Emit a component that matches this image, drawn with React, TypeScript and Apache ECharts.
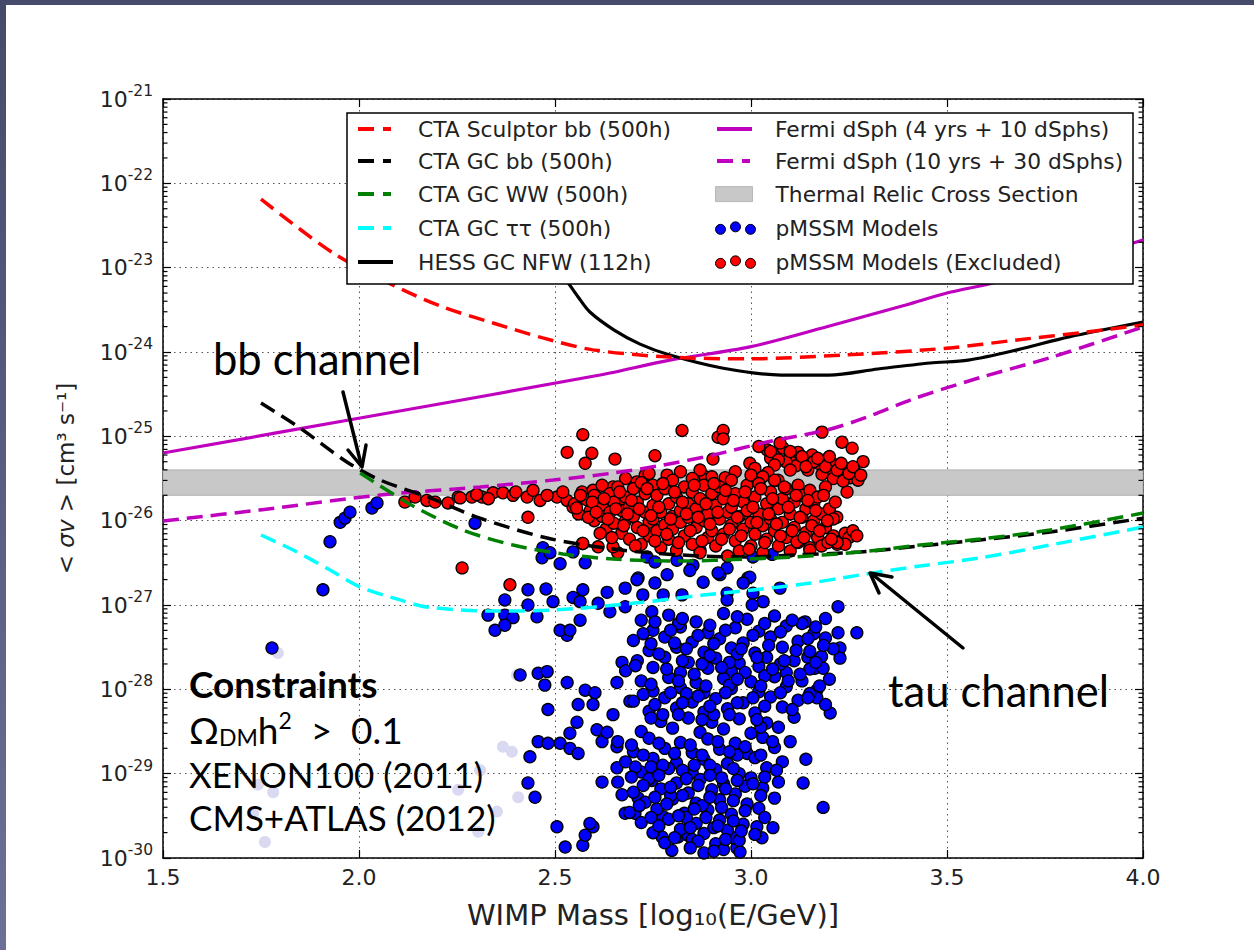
import React, { useEffect, useRef } from "react";
import * as echarts from "echarts";

// ---------- axes (y axis is drawn in decades: log10 of <sigma v>) ----------
const X_MIN = 1.5;
const X_MAX = 4.0;
const X_INTERVAL = 0.5;
const Y_MIN_EXP = -30;
const Y_MAX_EXP = -21;
const Y_INTERVAL = 1;
const MINOR_TICK_MANTISSAS = [2, 3, 4, 5, 6, 7, 8, 9];
const DECADE_EXPONENTS = [-30, -29, -28, -27, -26, -25, -24, -23, -22];

// ---------- curves: [log10(E/GeV), <sigma v> cm^3/s] ----------
const CTA_SCULPTOR_BB = [[1.75, 6.5e-23], [1.934, 1.49e-23], [2.087, 6.2e-24], [2.214, 3.42e-24], [2.342, 2.21e-24], [2.469, 1.47e-24], [2.597, 1.06e-24], [2.793, 8.7e-25], [2.997, 8.3e-25], [3.235, 9.2e-25], [3.5, 1.11e-24], [3.679, 1.39e-24], [3.857, 1.73e-24], [4.0, 2.09e-24]];
const CTA_GC_BB = [[1.75, 2.48e-25], [1.849, 1.26e-25], [1.969, 4.96e-26], [2.054, 3.03e-26], [2.181, 1.86e-26], [2.309, 1.07e-26], [2.48, 6.22e-27], [2.648, 4.61e-27], [2.819, 3.92e-27], [2.99, 3.71e-27], [3.107, 3.92e-27], [3.278, 4.25e-27], [3.431, 5.0e-27], [3.584, 5.9e-27], [3.763, 7.33e-27], [4.0, 1.07e-26]];
const CTA_GC_WW = [[2.003, 3.67e-26], [2.054, 2.58e-26], [2.138, 1.49e-26], [2.265, 7.75e-27], [2.393, 5.14e-27], [2.52, 4.03e-27], [2.648, 3.51e-27], [2.819, 3.32e-27], [2.99, 3.51e-27], [3.107, 3.71e-27], [3.278, 4.25e-27], [3.431, 5.14e-27], [3.584, 6.05e-27], [3.763, 7.75e-27], [4.0, 1.23e-26]];
const CTA_GC_TAUTAU = [[1.75, 6.76e-27], [1.832, 4.49e-27], [1.926, 2.6e-27], [2.003, 1.63e-27], [2.105, 1.15e-27], [2.173, 9.46e-28], [2.342, 8.49e-28], [2.495, 8.71e-28], [2.709, 1.06e-27], [2.878, 1.31e-27], [3.005, 1.51e-27], [3.133, 1.77e-27], [3.278, 2.27e-27], [3.431, 2.9e-27], [3.584, 3.61e-27], [3.763, 5.14e-27], [4.0, 8.4e-27]];
const HESS_GC_NFW = [[2.5, 1.0e-23], [2.528, 7.14e-24], [2.559, 4.49e-24], [2.589, 2.98e-24], [2.651, 1.82e-24], [2.717, 1.24e-24], [2.793, 9.2e-25], [2.926, 6.46e-25], [3.077, 5.33e-25], [3.199, 5.33e-25], [3.324, 6.29e-25], [3.457, 7.4e-25], [3.554, 8.0e-25], [3.679, 1.06e-24], [3.811, 1.51e-24], [4.0, 2.27e-24]];
const FERMI_4YR = [[1.5, 6.34e-26], [2.003, 1.65e-25], [2.615, 5.33e-25], [2.793, 8.0e-25], [2.997, 1.15e-24], [3.191, 1.98e-24], [3.395, 3.61e-24], [3.5, 5.0e-24], [3.617, 6.58e-24], [3.763, 1.02e-23], [3.89, 1.49e-23], [4.0, 2.13e-23]];
const FERMI_10YR = [[1.5, 9.9e-27], [1.747, 1.34e-26], [2.054, 2.01e-26], [2.309, 2.51e-26], [2.495, 3.03e-26], [2.648, 3.67e-26], [2.776, 4.57e-26], [2.903, 6.0e-26], [3.041, 8.57e-26], [3.194, 1.19e-25], [3.296, 1.69e-25], [3.413, 2.77e-25], [3.589, 5.05e-25], [3.768, 8.7e-25], [4.0, 1.98e-24]];
const THERMAL_BAND = [2e-26, 4e-26];

// ---------- pMSSM models: [log10(E/GeV), log10(<sigma v>)] ----------
const EXCLUDED_MODELS = [
  [2.117, -25.78], [2.143, -25.72], [2.173, -25.76], [2.194, -25.78], [2.227, -25.79], [2.253, -25.72], [2.258, -25.73], [2.288, -25.72], [2.314, -25.72], [2.342, -25.67], [2.367, -25.67], [2.393, -25.70], [2.429, -25.72], [2.444, -25.64], [2.462, -25.76], [2.505, -25.72], [2.531, -25.76], [2.546, -25.84], [2.569, -25.66], [2.597, -25.64], [2.61, -25.73], [2.633, -25.84], [2.648, -25.60], [2.673, -25.76], [2.699, -25.87],
  [2.30, -25.69], [2.33, -25.74], [2.40, -25.66], [2.48, -25.70], [2.52, -25.66],
  [2.431, -25.96], [2.263, -26.56], [2.385, -26.76],
  [2.571, -24.98], [2.531, -25.19], [2.594, -25.20], [2.577, -25.32], [2.653, -25.27], [2.755, -25.23], [2.824, -24.93], [2.916, -25.01], [2.929, -24.93], [2.929, -25.03], [2.903, -25.27], [3.181, -24.95], [3.232, -25.07], [3.258, -25.14], [3.286, -25.30], [3.245, -25.66], [3.219, -25.96],
  [3.041, -25.16], [3.061, -25.22], [3.082, -25.14], [3.099, -25.25], [3.12, -25.19], [3.138, -25.30], [3.156, -25.22], [3.171, -25.32], [3.189, -25.28], [3.202, -25.40], [3.214, -25.34], [3.227, -25.45], [3.24, -25.38], [3.253, -25.49], [3.265, -25.42], [3.273, -25.52], [3.115, -25.35], [3.145, -25.40], [3.181, -25.45], [3.089, -25.30], [3.074, -25.08], [3.02, -25.12], [3.05, -25.26], [3.21, -25.50], [3.235, -25.53],
  [3.05, -25.18], [3.07, -25.28], [3.10, -25.18], [3.13, -25.24], [3.16, -25.30], [3.19, -25.36], [3.22, -25.40], [3.25, -25.44], [3.26, -25.36], [3.23, -25.32], [3.20, -25.24], [3.17, -25.26], [3.28, -25.46], [3.14, -25.36], [3.10, -25.40], [3.06, -25.34],
  [2.997, -25.32], [3.005, -25.46], [3.043, -25.43], [3.069, -25.52], [2.934, -25.49], [2.883, -25.48], [2.709, -25.54], [2.73, -25.46], [2.786, -25.46], [3.01, -25.38],
  [2.74, -25.44], [2.82, -25.42], [2.96, -25.42], [3.03, -25.48], [2.87, -25.40], [2.68, -25.50], [2.62, -25.58],
  [2.55, -25.80], [2.56, -25.92], [2.57, -26.27], [2.58, -25.75], [2.59, -25.88], [2.60, -26.00], [2.60, -25.70],
  [2.61, -26.31], [2.62, -25.82], [2.62, -25.95], [2.63, -26.10], [2.64, -25.68], [2.64, -25.90], [2.65, -26.03], [2.65, -25.78],
  [2.66, -26.38], [2.66, -25.60], [2.67, -25.88], [2.67, -26.15], [2.68, -25.72], [2.68, -26.00], [2.69, -25.83], [2.69, -26.22], [2.70, -25.62], [2.70, -25.95],
  [2.71, -26.08], [2.71, -25.78], [2.72, -25.55], [2.72, -26.28], [2.73, -25.90], [2.73, -25.68], [2.74, -26.02], [2.74, -26.18], [2.75, -25.82], [2.75, -25.58], [2.75, -25.98],
  [2.76, -26.12], [2.76, -25.70], [2.77, -25.90], [2.77, -26.32], [2.78, -25.62], [2.78, -26.05], [2.79, -25.80], [2.79, -26.22], [2.80, -25.52], [2.80, -25.95], [2.80, -26.10],
  [2.81, -25.72], [2.81, -26.35], [2.82, -25.88], [2.82, -26.02], [2.83, -25.60], [2.83, -26.18], [2.84, -25.80], [2.84, -25.96], [2.85, -26.28], [2.85, -25.66], [2.85, -25.50],
  [2.86, -26.08], [2.86, -25.86], [2.87, -25.74], [2.87, -26.38], [2.88, -25.58], [2.88, -26.00], [2.89, -26.20], [2.89, -25.92], [2.90, -25.68], [2.90, -25.48], [2.90, -26.12],
  [2.91, -25.82], [2.91, -26.30], [2.92, -25.98], [2.92, -25.60], [2.93, -26.16], [2.93, -25.74], [2.94, -25.90], [2.94, -26.42], [2.95, -25.52], [2.95, -26.05], [2.95, -25.84],
  [2.96, -26.24], [2.96, -25.68], [2.97, -25.95], [2.97, -26.36], [2.98, -25.78], [2.98, -26.10], [2.99, -25.58], [2.99, -25.88], [3.00, -26.02], [3.00, -26.30], [3.00, -25.46],
  [3.01, -25.72], [3.01, -26.16], [3.02, -25.92], [3.02, -25.56], [3.03, -26.06], [3.03, -26.38], [3.04, -25.80], [3.04, -26.22], [3.05, -25.66], [3.05, -25.98],
  [3.06, -26.12], [3.06, -25.52], [3.07, -25.86], [3.07, -26.30], [3.08, -25.74], [3.08, -26.02], [3.09, -25.62], [3.09, -26.20], [3.10, -25.92], [3.10, -26.36],
  [3.11, -25.78], [3.11, -26.08], [3.12, -25.58], [3.12, -26.26], [3.13, -25.96], [3.13, -25.70], [3.14, -26.14], [3.14, -25.86], [3.15, -26.32], [3.15, -25.64],
  [3.16, -26.00], [3.16, -25.80], [3.17, -26.20], [3.17, -25.72], [3.18, -25.92], [3.18, -26.30], [3.19, -26.08], [3.19, -25.60], [3.20, -25.86], [3.21, -26.18], [3.22, -26.28], [3.21, -25.98],
  [3.23, -26.24], [3.24, -26.15], [3.25, -26.20], [3.26, -26.12], [3.27, -26.18], [3.24, -26.28],
  [2.571, -26.27], [2.648, -26.31], [3.15, -26.35], [3.117, -26.25], [3.196, -26.26], [3.22, -26.26],
  [2.555, -25.85], [2.565, -25.70], [2.585, -25.96], [2.595, -25.78], [2.605, -25.90], [2.615, -26.15], [2.625, -25.74], [2.635, -25.98], [2.645, -26.20], [2.655, -25.86], [2.665, -25.66], [2.675, -26.06], [2.685, -25.92], [2.695, -25.76], [2.705, -26.30], [2.715, -25.86], [2.725, -26.12], [2.735, -25.62], [2.745, -25.94], [2.755, -26.24], [2.765, -25.84], [2.775, -25.56], [2.785, -26.16], [2.795, -25.98], [2.805, -25.66], [2.815, -26.26], [2.825, -25.78], [2.835, -25.92], [2.845, -26.12], [2.855, -25.58], [2.865, -25.96], [2.875, -26.24], [2.885, -25.80], [2.895, -26.04], [2.905, -25.56], [2.915, -25.90], [2.925, -26.22], [2.935, -25.64], [2.945, -26.10], [2.955, -25.76], [2.965, -25.96], [2.975, -26.18], [2.985, -25.66], [2.995, -26.34], [3.005, -25.84], [3.015, -26.02], [3.025, -25.62], [3.035, -26.26], [3.045, -25.92], [3.055, -25.74], [3.065, -26.04], [3.075, -26.18], [3.085, -25.60], [3.095, -25.84], [3.105, -26.12], [3.115, -25.70], [3.125, -25.96], [3.135, -26.20], [3.145, -25.76], [3.155, -26.06], [3.165, -25.88], [3.175, -26.12], [3.185, -25.70], [3.195, -26.00], [3.205, -26.22], [3.215, -25.78]
];

const ALLOWED_MODELS = [
  [1.778, -27.51], [1.908, -26.82], [1.926, -26.25], [1.952, -26.02], [1.964, -25.97], [1.977, -25.90], [2.033, -25.85], [2.046, -25.79], [2.296, -26.03],
  [2.469, -26.32], [2.467, -26.44], [2.487, -26.38], [2.513, -26.51], [2.546, -26.37], [2.577, -26.50], [2.735, -26.43], [2.755, -26.49], [2.811, -26.47], [2.852, -26.53], [2.87, -26.35], [2.921, -26.64], [2.939, -26.56], [2.992, -26.68], [3.005, -26.43], [3.054, -26.40], [2.786, -26.64], [2.712, -26.68], [2.916, -26.62], [2.997, -26.67],
  [2.431, -26.82], [2.477, -26.81], [2.372, -26.94], [2.431, -27.00], [2.495, -26.96], [2.329, -27.12], [2.372, -27.12], [2.393, -27.15], [2.454, -27.14], [2.347, -27.30], [2.531, -27.36], [2.546, -26.91], [2.564, -26.96], [2.571, -26.82], [2.633, -26.85], [2.679, -26.80], [2.709, -26.70],
  [2.755, -26.74], [2.776, -26.88], [2.724, -26.88], [2.824, -26.88], [2.844, -26.59], [2.878, -26.73], [2.939, -26.86], [2.939, -26.94], [2.98, -26.74], [3.005, -26.86], [3.031, -26.96], [3.074, -26.80], [3.003, -27.00], [2.61, -26.98], [2.64, -27.08], [2.679, -27.02], [2.564, -27.18], [2.747, -27.08],
  [3.222, -27.02], [3.222, -27.33], [3.27, -27.33], [3.227, -27.51], [3.227, -27.63], [3.202, -28.28], [3.184, -29.40], [3.138, -27.20], [3.145, -27.62], [3.163, -27.75], [3.184, -27.75], [3.168, -28.01], [3.168, -28.10], [3.133, -29.11],
  [3.056, -29.64], [3.028, -29.76], [3.015, -29.63], [2.964, -29.88], [2.972, -29.93], [2.954, -29.76], [2.798, -29.91], [2.773, -29.75], [2.526, -29.87], [2.571, -29.85], [2.577, -29.73], [2.597, -29.63],
  [2.411, -27.83], [2.457, -27.81], [2.48, -27.79], [2.474, -27.95], [2.531, -27.92], [2.577, -28.01], [2.602, -28.04], [2.559, -28.18], [2.597, -28.18], [2.482, -28.24], [2.556, -28.39], [2.538, -28.52], [2.607, -28.48], [2.457, -28.62], [2.482, -28.64], [2.513, -28.64], [2.538, -28.70], [2.559, -28.76], [2.436, -28.80], [2.62, -28.62], [2.633, -28.51], [2.648, -28.30], [2.691, -28.14], [2.658, -27.92], [2.671, -27.68], [2.431, -29.11], [2.449, -29.28], [2.62, -29.10], [2.505, -29.63], [2.589, -29.59], [2.658, -28.68], [2.658, -28.93], [2.671, -29.25], [2.679, -29.47], [2.704, -29.47], [2.712, -29.29], [2.747, -29.08], [2.776, -29.51], [2.814, -29.75], [2.839, -29.73], [2.372, -27.24], [2.513, -27.30], [2.538, -27.30],
  [2.72, -27.18], [2.79, -27.12], [2.86, -27.20], [2.93, -27.10], [2.99, -27.17], [3.06, -27.13], [3.13, -27.22], [3.19, -27.16],
  [2.75, -27.30], [2.82, -27.26], [2.89, -27.33], [2.96, -27.27], [3.02, -27.31], [3.09, -27.25], [3.16, -27.34],
  [2.70, -27.42], [2.78, -27.38], [2.85, -27.44], [2.92, -27.40], [2.98, -27.45], [3.05, -27.38], [3.12, -27.43], [3.19, -27.39],
  [2.74, -27.54], [2.81, -27.50], [2.88, -27.56], [2.95, -27.51], [3.01, -27.57], [3.08, -27.50], [3.15, -27.55], [3.21, -27.52],
  [2.71, -27.66], [2.78, -27.62], [2.84, -27.68], [2.91, -27.63], [2.97, -27.69], [3.04, -27.62], [3.11, -27.66], [3.18, -27.61],
  [2.68, -27.78], [2.75, -27.74], [2.82, -27.80], [2.89, -27.75], [2.95, -27.79], [3.02, -27.73], [3.09, -27.80], [3.15, -27.76],
  [2.72, -27.90], [2.79, -27.86], [2.86, -27.92], [2.93, -27.87], [3.00, -27.91], [3.06, -27.85], [3.13, -27.90], [3.20, -27.88],
  [2.75, -28.02], [2.82, -27.98], [2.88, -28.04], [2.95, -27.99], [3.02, -28.03], [3.09, -27.97], [3.15, -28.05],
  [2.70, -28.14], [2.78, -28.10], [2.85, -28.15], [2.91, -28.11], [2.98, -28.16], [3.05, -28.09], [3.12, -28.13], [3.19, -28.18],
  [2.74, -28.26], [2.81, -28.22], [2.88, -28.27], [2.94, -28.23], [3.01, -28.28], [3.08, -28.21],
  [2.77, -28.38], [2.84, -28.34], [2.90, -28.39], [2.97, -28.35], [3.04, -28.40], [3.11, -28.33],
  [2.72, -28.50], [2.80, -28.46], [2.87, -28.51], [2.93, -28.47], [3.00, -28.52], [3.07, -28.45],
  [2.66, -28.62], [2.74, -28.58], [2.82, -28.63], [2.89, -28.59], [2.96, -28.64], [3.03, -28.57], [3.10, -28.62],
  [2.70, -28.74], [2.78, -28.70], [2.85, -28.75], [2.92, -28.71], [2.99, -28.76], [3.06, -28.69],
  [2.68, -28.86], [2.75, -28.82], [2.81, -28.87], [2.88, -28.83], [2.94, -28.88], [3.01, -28.81], [3.08, -28.86], [3.14, -28.83],
  [2.72, -28.98], [2.79, -28.94], [2.85, -28.99], [2.91, -28.95], [2.97, -29.00], [3.04, -28.93],
  [2.66, -29.10], [2.74, -29.06], [2.81, -29.11], [2.87, -29.07], [2.93, -29.12], [3.00, -29.05], [3.07, -29.10],
  [2.70, -29.22], [2.77, -29.18], [2.84, -29.23], [2.90, -29.19], [2.96, -29.24], [3.03, -29.17],
  [2.73, -29.34], [2.80, -29.30], [2.86, -29.35], [2.92, -29.31], [2.99, -29.36], [3.06, -29.29],
  [2.69, -29.46], [2.76, -29.42], [2.83, -29.47], [2.89, -29.43], [2.95, -29.48], [3.02, -29.41],
  [2.72, -29.58], [2.79, -29.54], [2.86, -29.59], [2.92, -29.55], [2.98, -29.60],
  [2.75, -29.70], [2.82, -29.66], [2.88, -29.71], [2.94, -29.67], [3.01, -29.72],
  [2.78, -29.82], [2.85, -29.78], [2.91, -29.83], [2.97, -29.79],
  [2.88, -29.94], [2.93, -29.90],
  [2.805, -27.45], [2.875, -27.70], [2.945, -27.95], [2.835, -28.05], [2.905, -28.30], [2.965, -27.58], [2.775, -28.30], [3.035, -27.84], [2.855, -28.90], [2.925, -29.05], [2.795, -29.26], [2.965, -28.78], [2.835, -29.52], [2.905, -29.64], [3.025, -28.45], [2.745, -28.92], [2.875, -29.38], [2.985, -29.15], [3.075, -27.70], [2.815, -27.22],
  [2.755, -27.20], [2.825, -27.16], [2.895, -27.24], [2.965, -27.14], [3.035, -27.22], [3.105, -27.18], [3.165, -27.26],
  [2.725, -27.34], [2.795, -27.30], [2.865, -27.36], [2.935, -27.30], [3.005, -27.36], [3.075, -27.32], [3.145, -27.40],
  [2.745, -27.46], [2.835, -27.52], [2.905, -27.46], [2.975, -27.52], [3.045, -27.48], [3.115, -27.54], [3.185, -27.48],
  [2.765, -27.58], [2.825, -27.66], [2.895, -27.60], [2.945, -27.68], [3.015, -27.62], [3.085, -27.66], [3.165, -27.68],
  [2.705, -27.72], [2.785, -27.76], [2.855, -27.82], [2.925, -27.74], [2.985, -27.80], [3.055, -27.76], [3.125, -27.82],
  [2.745, -27.94], [2.815, -27.90], [2.885, -27.96], [2.965, -27.88], [3.025, -27.96], [3.095, -27.90], [3.175, -27.96],
  [2.725, -28.06], [2.795, -28.04], [2.865, -28.08], [2.935, -28.04], [3.005, -28.10], [3.075, -28.04], [3.145, -28.10],
  [2.755, -28.18], [2.825, -28.16], [2.895, -28.20], [2.965, -28.16], [3.035, -28.20], [3.105, -28.24],
  [2.745, -28.34], [2.815, -28.30], [2.875, -28.36], [2.945, -28.30], [3.015, -28.36],
  [2.695, -28.66], [2.765, -28.64], [2.845, -28.66], [2.915, -28.62], [2.985, -28.68], [3.055, -28.62],
  [2.725, -28.78], [2.805, -28.76], [2.875, -28.78], [2.945, -28.74], [3.025, -28.78],
  [2.705, -28.92], [2.775, -28.90], [2.825, -28.96], [2.895, -28.90], [2.955, -28.94], [3.065, -28.96],
  [2.695, -29.04], [2.765, -29.02], [2.835, -29.06], [2.895, -29.02], [2.965, -29.08], [3.035, -29.04],
  [2.725, -29.14], [2.795, -29.16], [2.865, -29.14], [2.935, -29.18], [3.005, -29.12],
  [2.755, -29.28], [2.825, -29.26], [2.895, -29.28], [2.955, -29.32], [3.025, -29.26],
  [2.715, -29.38], [2.785, -29.36], [2.855, -29.42], [2.925, -29.40], [2.985, -29.44],
  [2.745, -29.52], [2.815, -29.50], [2.885, -29.52], [2.955, -29.56], [3.035, -29.52],
  [2.765, -29.62], [2.845, -29.64], [2.915, -29.62], [2.975, -29.68],
  [2.805, -29.76], [2.865, -29.80], [2.935, -29.78],
  [2.845, -29.88], [2.905, -29.92]
];

const FADED_MODELS = [
  [1.793, -27.57], [1.742, -29.13], [1.781, -29.22], [1.76, -29.81], [1.73, -29.47],
  [2.367, -28.68], [2.39, -28.74], [2.309, -28.96], [2.253, -29.19], [2.352, -29.45], [2.304, -29.69], [2.406, -29.28], [2.403, -27.83]
];

// ---------- legend ----------
const LEGEND_ROWS_Y = [129, 161, 194, 228, 262];
const DASH_ICON = "path://M0,0h16v4h-16zM25,0h8v4h-8z";
const SOLID_ICON = "path://M0,0h35v4h-35z";
const DOTS_ICON = "path://M0,6.5a5,5 0 1,0 10,0a5,5 0 1,0 -10,0zM15,4a5,5 0 1,0 10,0a5,5 0 1,0 -10,0zM30,6.5a5,5 0 1,0 10,0a5,5 0 1,0 -10,0z";

const NAMES = {
  sculptor: "CTA Sculptor bb (500h)",
  gcbb: "CTA GC bb (500h)",
  gcww: "CTA GC WW (500h)",
  gctt: "CTA GC ττ (500h)",
  hess: "HESS GC NFW (112h)",
  fermi4: "Fermi dSph (4 yrs + 10 dSphs)",
  fermi10: "Fermi dSph (10 yrs + 30 dSphs)",
  thermal: "Thermal Relic Cross Section",
  models: "pMSSM Models",
  excluded: "pMSSM Models (Excluded)",
};

const FONT_MPL = "DejaVu Sans";
const FONT_SLIDE = "Lato";
const LEGEND_FONT = 21.8;
const MARKER_SIZE = 12;

// curve values -> decades
function toDecades(pts: number[][]) {
  return pts.map((p) => [p[0], Math.log10(p[1])]);
}

function legendRow(name: string, icon: string, w: number, h: number, left: number, rowY: number, textX: number, itemStyle: any) {
  return {
    show: true,
    selectedMode: false,
    orient: "horizontal",
    left,
    top: rowY - LEGEND_FONT / 2,
    padding: 0,
    z: 12,
    itemWidth: w,
    itemHeight: h,
    data: [{ name, icon, itemStyle }],
    textStyle: {
      fontFamily: FONT_MPL,
      fontSize: LEGEND_FONT,
      color: "#222",
      padding: [0, 0, 0, textX - (left + w + 5)],
    },
  };
}

function lineSeries(name: string, data: number[][], color: string, dashed: boolean, width: number) {
  return {
    type: "line",
    name,
    data: toDecades(data),
    showSymbol: false,
    symbol: "none",
    smooth: 0.3,
    z: 6,
    silent: true,
    lineStyle: { color, width, type: dashed ? [16, 8] : "solid", cap: "butt" },
    itemStyle: { color },
  };
}

export default function App() {
  const ref = useRef<HTMLDivElement>(null);

  useEffect(() => {
    document.body.style.margin = "0";
    const chart = echarts.init(ref.current!, null, { renderer: "svg" });

    const minorTickValues: number[][] = [];
    DECADE_EXPONENTS.forEach((e) => MINOR_TICK_MANTISSAS.forEach((m) => minorTickValues.push([X_MIN, e + Math.log10(m)])));

    const axisLineStyle = { color: "#000", width: 1.5 };
    const tickStyle = { color: "#000", width: 1.2 };
    const gridLine = { show: true, lineStyle: { color: "#555", width: 1, type: [1.5, 4] } };

    const option: any = {
      animation: false,
      backgroundColor: "#ffffff",
      grid: { left: 163, top: 99, right: 111, bottom: 92, containLabel: false },
      xAxis: [
        {
          type: "value",
          min: X_MIN,
          max: X_MAX,
          interval: X_INTERVAL,
          position: "bottom",
          axisLine: { show: true, onZero: false, lineStyle: axisLineStyle },
          axisTick: { show: true, inside: true, length: 8, lineStyle: tickStyle },
          axisLabel: { color: "#222", fontSize: 22, fontFamily: FONT_MPL, margin: 8, formatter: (v: number) => v.toFixed(1) },
          splitLine: gridLine,
          name: "WIMP Mass [log₁₀(E/GeV)]",
          nameLocation: "middle",
          nameGap: 42,
          nameTextStyle: { color: "#222", fontSize: 29, fontFamily: FONT_MPL },
        },
        {
          type: "value",
          min: X_MIN,
          max: X_MAX,
          interval: X_INTERVAL,
          position: "top",
          axisLine: { show: true, onZero: false, lineStyle: axisLineStyle },
          axisTick: { show: true, inside: true, length: 8, lineStyle: tickStyle },
          axisLabel: { show: false },
          splitLine: { show: false },
        },
      ],
      yAxis: [
        {
          type: "value",
          min: Y_MIN_EXP,
          max: Y_MAX_EXP,
          interval: Y_INTERVAL,
          position: "left",
          axisLine: { show: true, onZero: false, lineStyle: axisLineStyle },
          axisTick: { show: true, inside: true, length: 8, lineStyle: tickStyle },
          axisLabel: {
            margin: 10,
            formatter: (v: number) => `{b|10}{s|${Math.round(v)}}`,
            rich: {
              b: { fontSize: 22, color: "#222", fontFamily: FONT_MPL },
              s: { fontSize: 15.5, color: "#222", fontFamily: FONT_MPL, padding: [0, 0, 16, 0] },
            },
          },
          splitLine: gridLine,
          name: "{n|< }{i|σv}{n| > [cm³ s⁻¹]}",
          nameLocation: "middle",
          nameGap: 86,
          nameRotate: 90,
          nameTextStyle: {
            rich: {
              n: { fontSize: 23, color: "#222", fontFamily: FONT_MPL },
              i: { fontSize: 23, color: "#222", fontFamily: FONT_MPL, fontStyle: "italic" },
            },
          },
        },
        {
          type: "value",
          min: Y_MIN_EXP,
          max: Y_MAX_EXP,
          interval: Y_INTERVAL,
          position: "right",
          axisLine: { show: true, onZero: false, lineStyle: axisLineStyle },
          axisTick: { show: true, inside: true, length: 8, lineStyle: tickStyle },
          axisLabel: { show: false },
          splitLine: { show: false },
        },
      ],
      legend: [
        legendRow(NAMES.sculptor, DASH_ICON, 33, 4, 358, LEGEND_ROWS_Y[0], 418, { color: "#ff0000", borderWidth: 0 }),
        legendRow(NAMES.gcbb, DASH_ICON, 33, 4, 358, LEGEND_ROWS_Y[1], 418, { color: "#000000", borderWidth: 0 }),
        legendRow(NAMES.gcww, DASH_ICON, 33, 4, 358, LEGEND_ROWS_Y[2], 418, { color: "#008000", borderWidth: 0 }),
        legendRow(NAMES.gctt, DASH_ICON, 33, 4, 358, LEGEND_ROWS_Y[3], 418, { color: "#00ffff", borderWidth: 0 }),
        legendRow(NAMES.hess, SOLID_ICON, 35, 4, 358, LEGEND_ROWS_Y[4], 418, { color: "#000000", borderWidth: 0 }),
        legendRow(NAMES.fermi4, SOLID_ICON, 35, 4, 717, LEGEND_ROWS_Y[0], 775, { color: "#bf00bf", borderWidth: 0 }),
        legendRow(NAMES.fermi10, DASH_ICON, 33, 4, 717, LEGEND_ROWS_Y[1], 775, { color: "#bf00bf", borderWidth: 0 }),
        legendRow(NAMES.thermal, "rect", 37, 15, 715, LEGEND_ROWS_Y[2], 775, { color: "#c8c8c8", borderColor: "#b8b8b8", borderWidth: 1 }),
        legendRow(NAMES.models, DOTS_ICON, 40, 12.5, 715, LEGEND_ROWS_Y[3], 775, { color: "#0000ff", borderColor: "#000", borderWidth: 1, opacity: 1 }),
        legendRow(NAMES.excluded, DOTS_ICON, 40, 12.5, 715, LEGEND_ROWS_Y[4], 775, { color: "#ff0000", borderColor: "#000", borderWidth: 1, opacity: 1 }),
      ],
      series: [
        {
          type: "line",
          name: NAMES.thermal,
          data: [],
          z: 1,
          silent: true,
          itemStyle: { color: "#c8c8c8" },
          markArea: {
            silent: true,
            itemStyle: { color: "#c8c8c8", borderColor: "#b0b0b0", borderWidth: 1, opacity: 1 },
            data: [[{ yAxis: Math.log10(THERMAL_BAND[0]) }, { yAxis: Math.log10(THERMAL_BAND[1]) }]],
          },
        },
        {
          type: "scatter",
          name: "faded",
          data: FADED_MODELS,
          symbolSize: MARKER_SIZE,
          z: 2,
          silent: true,
          itemStyle: { color: "#d9d9f2", borderWidth: 0, opacity: 1 },
        },
        {
          type: "scatter",
          name: NAMES.models,
          data: ALLOWED_MODELS,
          symbolSize: MARKER_SIZE,
          z: 3,
          silent: true,
          itemStyle: { color: "#0000ff", borderColor: "#000", borderWidth: 1.3, opacity: 1 },
        },
        {
          type: "scatter",
          name: NAMES.excluded,
          data: EXCLUDED_MODELS,
          symbolSize: MARKER_SIZE,
          z: 4,
          silent: true,
          itemStyle: { color: "#ff0000", borderColor: "#000", borderWidth: 1.3, opacity: 1 },
        },
        lineSeries(NAMES.fermi4, FERMI_4YR, "#bf00bf", false, 3.2),
        lineSeries(NAMES.fermi10, FERMI_10YR, "#bf00bf", true, 3.5),
        lineSeries(NAMES.hess, HESS_GC_NFW, "#000000", false, 3.2),
        lineSeries(NAMES.sculptor, CTA_SCULPTOR_BB, "#ff0000", true, 3.5),
        lineSeries(NAMES.gctt, CTA_GC_TAUTAU, "#00ffff", true, 3.5),
        lineSeries(NAMES.gcbb, CTA_GC_BB, "#000000", true, 3.5),
        lineSeries(NAMES.gcww, CTA_GC_WW, "#008000", true, 3.5),
        {
          type: "custom",
          name: "minor ticks",
          silent: true,
          z: 7,
          data: minorTickValues,
          renderItem: (_params: any, api: any) => {
            const v = api.value(1);
            const l = api.coord([X_MIN, v]);
            const r = api.coord([X_MAX, v]);
            return {
              type: "group",
              children: [
                { type: "line", shape: { x1: l[0], y1: l[1], x2: l[0] + 4.5, y2: l[1] }, style: { stroke: "#000", lineWidth: 1.2 } },
                { type: "line", shape: { x1: r[0] - 4.5, y1: r[1], x2: r[0], y2: r[1] }, style: { stroke: "#000", lineWidth: 1.2 } },
              ],
            };
          },
        },
      ],
      graphic: [
        { type: "rect", z: 0, silent: true, shape: { x: 0, y: 0, width: 1254, height: 5 }, style: { fill: "#474b6b" } },
        {
          type: "rect",
          z: 0,
          silent: true,
          shape: { x: 0, y: 0, width: 6, height: 950 },
          style: {
            fill: new echarts.graphic.LinearGradient(0, 0, 0, 1, [
              { offset: 0, color: "#464a6a" },
              { offset: 1, color: "#6c7097" },
            ]),
          },
        },
        { type: "rect", z: 10, silent: true, shape: { x: 347, y: 113, width: 786, height: 171 }, style: { fill: "#ffffff", stroke: "#000", lineWidth: 1.5 } },
        // annotations
        { type: "text", z: 20, silent: true, x: 213, y: 358, style: { text: "bb channel", fontFamily: FONT_SLIDE, fontSize: 43.5, fill: "#000", verticalAlign: "middle" } },
        { type: "text", z: 20, silent: true, x: 888, y: 690, style: { text: "tau channel", fontFamily: FONT_SLIDE, fontSize: 43.5, fill: "#000", verticalAlign: "middle" } },
        { type: "text", z: 20, silent: true, x: 189, y: 683, style: { text: "Constraints", fontFamily: FONT_SLIDE, fontWeight: "bold", fontSize: 37, fill: "#000", verticalAlign: "middle" } },
        {
          type: "text",
          z: 20,
          silent: true,
          x: 189,
          y: 729,
          style: {
            text: "{n|Ω}{sub|DM}{n|h}{sup|2}{n|  >  0.1}",
            verticalAlign: "middle",
            rich: {
              n: { fontFamily: FONT_SLIDE, fontSize: 37, color: "#000" },
              sub: { fontFamily: FONT_SLIDE, fontSize: 23, color: "#000", padding: [16, 0, 0, 0] },
              sup: { fontFamily: FONT_SLIDE, fontSize: 23, color: "#000", padding: [0, 0, 18, 0] },
            },
          },
        },
        { type: "text", z: 20, silent: true, x: 189, y: 774, style: { text: "XENON100 (2011)", fontFamily: FONT_SLIDE, fontSize: 35, fill: "#000", verticalAlign: "middle" } },
        { type: "text", z: 20, silent: true, x: 189, y: 817, style: { text: "CMS+ATLAS (2012)", fontFamily: FONT_SLIDE, fontSize: 35, fill: "#000", verticalAlign: "middle" } },
        // arrows
        { type: "line", z: 20, silent: true, shape: { x1: 343, y1: 392, x2: 361, y2: 464 }, style: { stroke: "#000", lineWidth: 3.5, lineCap: "round" } },
        { type: "polyline", z: 20, silent: true, shape: { points: [[348, 450], [362, 467], [366, 445]] }, style: { stroke: "#000", lineWidth: 3.5, fill: null, lineCap: "round", lineJoin: "round" } },
        { type: "line", z: 20, silent: true, shape: { x1: 963, y1: 648, x2: 872, y2: 574 }, style: { stroke: "#000", lineWidth: 3.5, lineCap: "round" } },
        { type: "polyline", z: 20, silent: true, shape: { points: [[879, 593], [870, 573], [892, 577]] }, style: { stroke: "#000", lineWidth: 3.5, fill: null, lineCap: "round", lineJoin: "round" } },
      ],
    };

    chart.setOption(option);
    return () => chart.dispose();
  }, []);

  return <div ref={ref} style={{ position: "fixed", left: 0, top: 0, width: 1254, height: 950 }} />;
}
